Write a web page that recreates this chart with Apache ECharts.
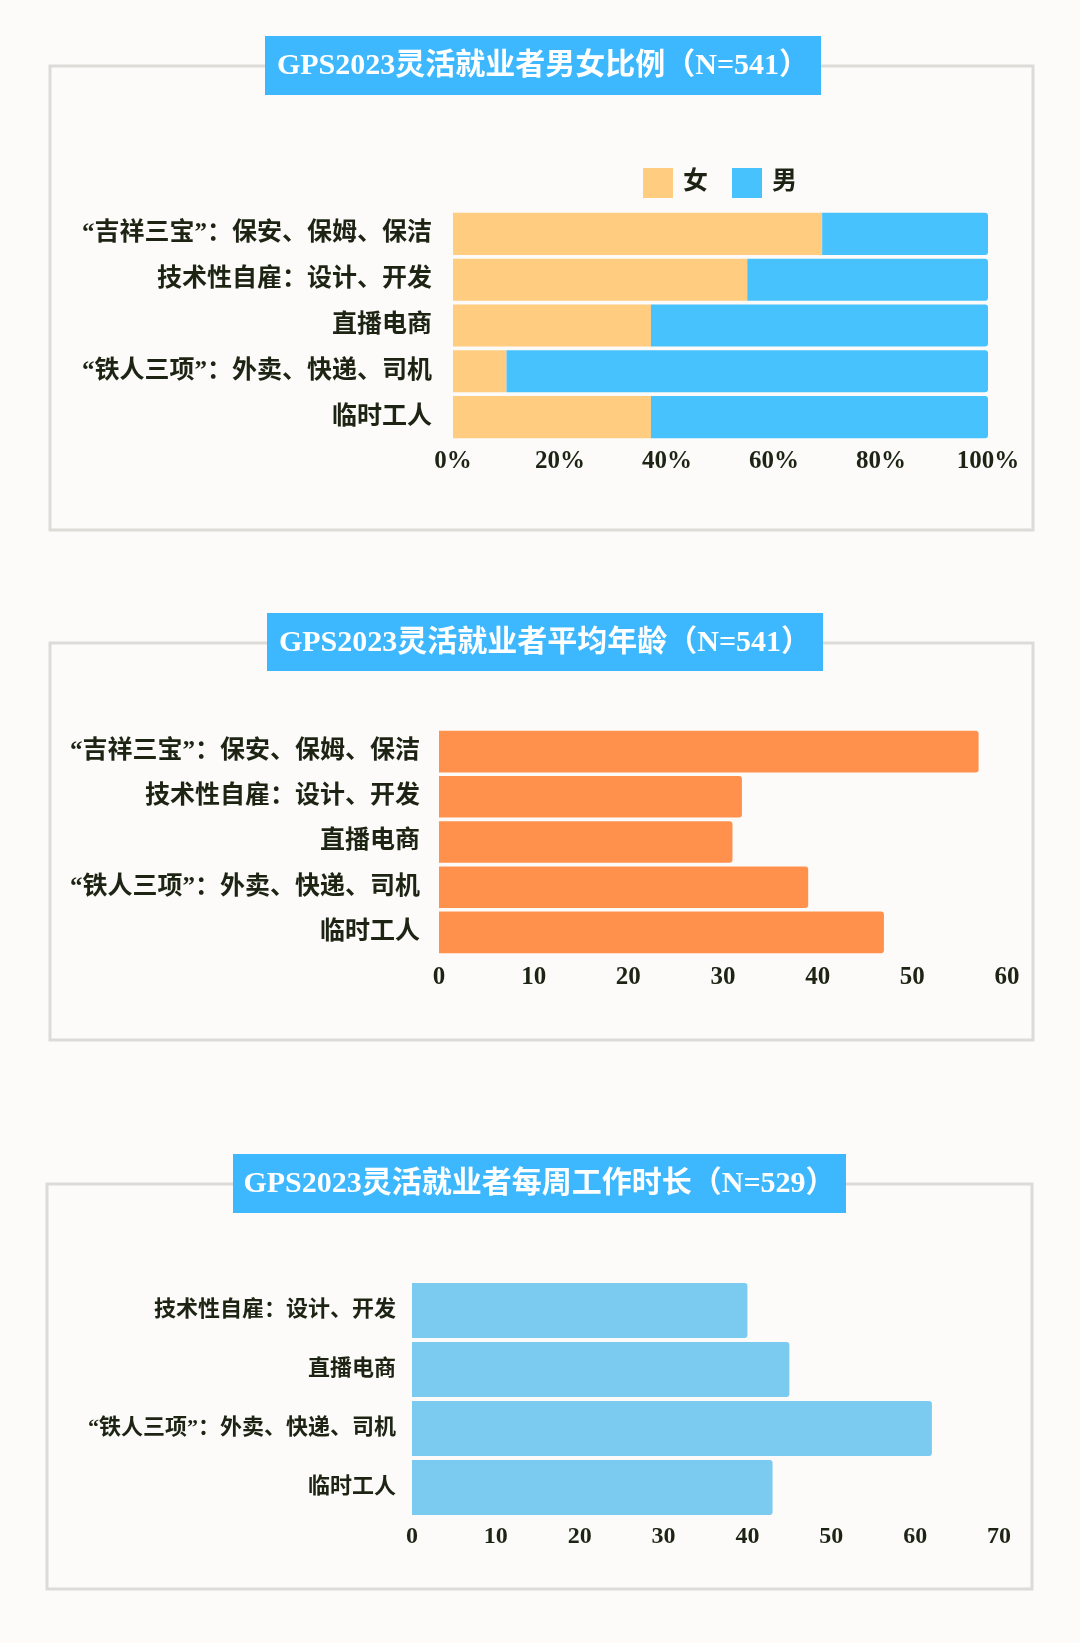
<!DOCTYPE html>
<html>
<head>
<meta charset="utf-8">
<script src="https://cdn.jsdelivr.net/npm/echarts@6/dist/echarts.min.js"></script>
<style>
  html, body { margin: 0; padding: 0; background: #fcfbf9; }
  #main { width: 1080px; height: 1643px; }
</style>
</head>
<body>
<div id="main"></div>
<script>
// 数据
const jobs = ['“吉祥三宝”：保安、保姆、保洁', '技术性自雇：设计、开发', '直播电商', '“铁人三项”：外卖、快递、司机', '临时工人'];
const jobsHours = ['技术性自雇：设计、开发', '直播电商', '“铁人三项”：外卖、快递、司机', '临时工人'];
const female = [69, 55, 37, 10, 37];
const male = [31, 45, 63, 90, 63];
const avgAge = [57, 32, 31, 39, 47];
const weeklyHours = [40, 45, 62, 43];
const titles = ['GPS2023灵活就业者男女比例（N=541）', 'GPS2023灵活就业者平均年龄（N=541）', 'GPS2023灵活就业者每周工作时长（N=529）'];

const FONT = '"Liberation Serif", "Noto Sans CJK SC", serif';
const TEXT = '#1d2414';

var chartDom = document.getElementById('main');
var myChart = echarts.init(chartDom, null, { renderer: 'canvas' });

// 外框 + 标题块
const frame = (x, y, w, h) => ({
    type: 'rect', shape: { x: x, y: y, width: w, height: h },
    style: { fill: 'none', stroke: '#dcdbd8', lineWidth: 3 }, z: 0
});
const titleBox = (x, y, w, h, text) => ({
    type: 'group', z: 10,
    children: [
        { type: 'rect', shape: { x: x, y: y, width: w, height: h }, style: { fill: '#3db8ff' } },
        { type: 'text', x: x + w / 2, y: y + h / 2 + 1,
          style: { text: text, fill: '#fff', font: 'bold 30px ' + FONT, align: 'center', verticalAlign: 'middle' } }
    ]
});

const catAxis = (idx, data, size, margin) => ({
    type: 'category', gridIndex: idx, data: data, inverse: true,
    axisLine: { show: false }, axisTick: { show: false },
    axisLabel: { color: TEXT, fontSize: size, fontWeight: 'bold', fontFamily: FONT, margin: margin }
});
const valAxis = (idx, max, size, margin, fmt) => ({
    type: 'value', gridIndex: idx, min: 0, max: max, interval: max === 100 ? 20 : 10,
    axisLine: { show: false }, axisTick: { show: false }, splitLine: { show: false },
    axisLabel: { color: TEXT, fontSize: size, fontWeight: 'bold', fontFamily: FONT, margin: margin, formatter: fmt }
});

var option = {
    backgroundColor: '#fcfbf9',
    animation: false,
    graphic: [
        frame(50, 66, 983, 464),
        frame(50, 643, 983, 397),
        frame(47, 1184, 985, 405),
        titleBox(265, 36, 556, 59, titles[0]),
        titleBox(267, 613, 556, 58, titles[1]),
        titleBox(233, 1154, 613, 59, titles[2])
    ],
    legend: {
        data: ['女', '男'],
        left: 643, top: 168, padding: 0,
        itemWidth: 30, itemHeight: 30, itemGap: 24,
        icon: 'rect',
        textStyle: { color: TEXT, fontSize: 25, fontFamily: FONT, fontWeight: 'bold', padding: [0, 0, 0, 5] }
    },
    grid: [
        { left: 453, right: 92, top: 211, height: 229 },
        { left: 439, right: 73, top: 729, height: 226 },
        { left: 412, right: 81, top: 1281, height: 236 }
    ],
    xAxis: [
        valAxis(0, 100, 25, 9, '{value}%'),
        valAxis(1, 60, 25, 10, '{value}'),
        valAxis(2, 70, 24, 8, '{value}')
    ],
    yAxis: [
        catAxis(0, jobs, 25, 21),
        catAxis(1, jobs, 25, 19),
        catAxis(2, jobsHours, 22, 16)
    ],
    series: [
        {
            name: '女', type: 'bar', stack: 'sex', xAxisIndex: 0, yAxisIndex: 0,
            data: female, barCategoryGap: '8%',
            itemStyle: { color: '#ffcc80' }
        },
        {
            name: '男', type: 'bar', stack: 'sex', xAxisIndex: 0, yAxisIndex: 0,
            data: male, barCategoryGap: '8%',
            itemStyle: { color: '#48c2fc', borderRadius: [0, 3, 3, 0] }
        },
        {
            name: '平均年龄', type: 'bar', xAxisIndex: 1, yAxisIndex: 1,
            data: avgAge, barCategoryGap: '8%',
            itemStyle: { color: '#ff914d', borderRadius: [0, 3, 3, 0] }
        },
        {
            name: '每周工作时长', type: 'bar', xAxisIndex: 2, yAxisIndex: 2,
            data: weeklyHours, barCategoryGap: '7%',
            itemStyle: { color: '#7bcbf1', borderRadius: [0, 3, 3, 0] }
        }
    ]
};

myChart.setOption(option);
</script>
</body>
</html>
